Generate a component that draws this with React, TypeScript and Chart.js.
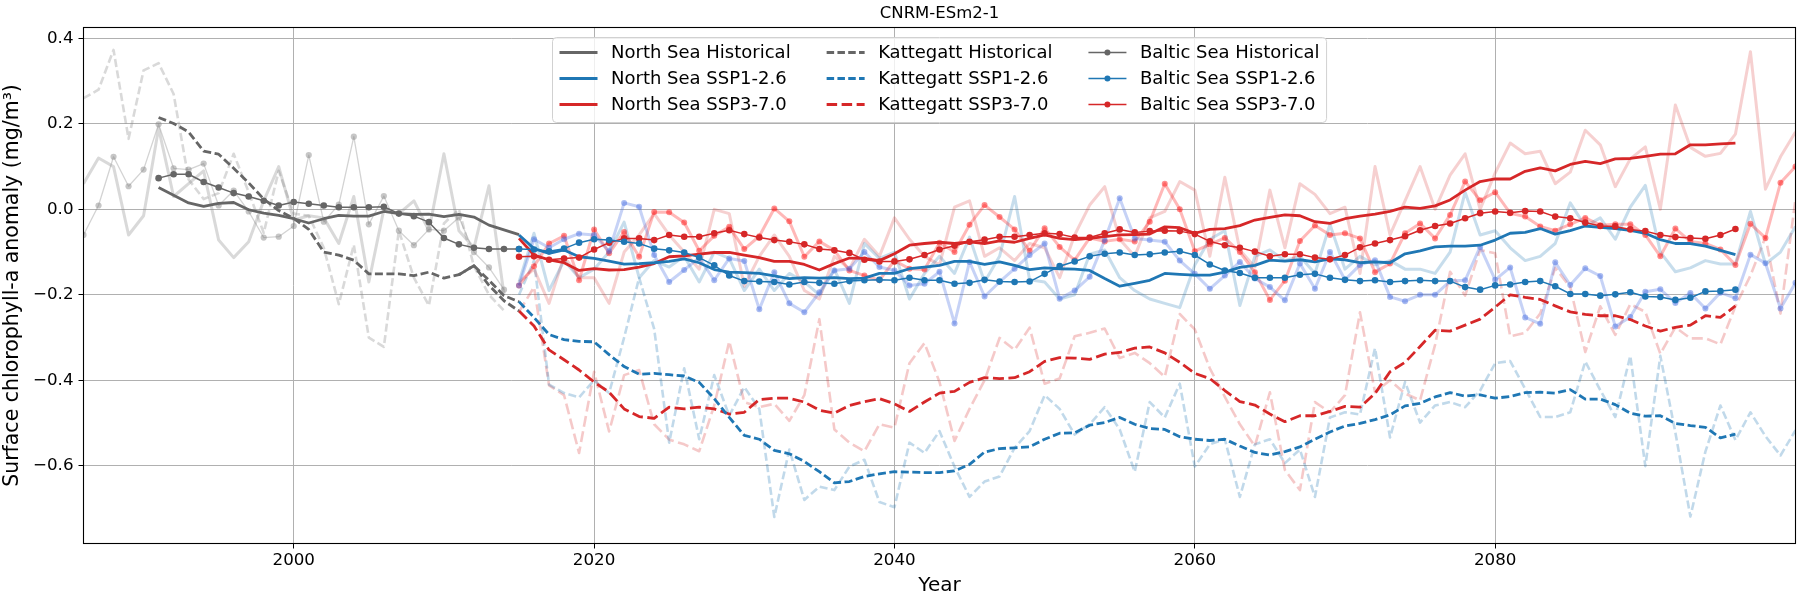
import { useEffect, useRef } from "react";
import { Chart, registerables } from "chart.js";

Chart.register(...registerables);

// ---------- axes ----------
const PLOT_TITLE = "CNRM-ESm2-1";
const X_LABEL = "Year";
const Y_LABEL = "Surface chlorophyll-a anomaly (mg/m³)";
const X_MIN = 1986;
const X_MAX = 2100;
const Y_MIN = -0.782;
const Y_MAX = 0.4255;
const xTickValues = [2000, 2020, 2040, 2060, 2080];
const yTickValues = [-0.6, -0.4, -0.2, 0.0, 0.2, 0.4];

// ---------- first year of each kind of series ----------
const ANNUAL_HIST_START = 1986; // annual historical anomalies, 1986–2014
const MEAN_HIST_START = 1991; // 10-year running mean, historical part, 1991–2015
const PROJ_START = 2015; // annual scenario anomalies 2015–2100, running means 2015–2096
const KATTEGATT_HIST_ALT_START = 2011; // historical running mean joined to SSP3-7.0

// ---------- historical, annual ----------
const northSeaHistAnnual = [
  0.06, 0.12, 0.1, -0.06, -0.015, 0.19, 0.03, 0.06, 0.09, -0.072,
  -0.113, -0.076, 0.02, 0.1, -0.025, -0.015, -0.02, -0.08, 0.03, -0.17,
  0.0, -0.01, 0.02, -0.05, 0.13, -0.05, -0.09, 0.055, -0.2,
];
const kattegattHistAnnual = [
  0.26, 0.28, 0.373, 0.165, 0.325, 0.342, 0.27, 0.07, 0.024, 0.038,
  0.13, 0.04, -0.055, 0.09, -0.01, -0.015, -0.09, -0.222, -0.083, -0.3,
  -0.322, -0.05, -0.16, -0.225, -0.033, 0.0, -0.133, -0.2, -0.237,
];
const balticHistAnnual = [
  -0.06, 0.009, 0.123, 0.054, 0.093, 0.199, 0.096, 0.093, 0.107, 0.009,
  0.044, -0.005, -0.066, -0.064, -0.039, 0.127, -0.029, 0.011, 0.17, -0.035,
  0.031, -0.05, -0.084, -0.047, -0.05, -0.019, -0.1, -0.136, -0.188,
];

// ---------- historical, running means ----------
const northSeaHistMean = [
  0.051, 0.033, 0.015, 0.007, 0.014, 0.016, -0.001, -0.009, -0.014, -0.022,
  -0.032, -0.022, -0.014, -0.016, -0.016, -0.005, -0.01, -0.012, -0.011, -0.017,
  -0.012, -0.018, -0.037, -0.048, -0.059,
];
const kattegattHistMean = [
  0.215, 0.201, 0.181, 0.136, 0.129, 0.096, 0.062, 0.024, -0.003, -0.021,
  -0.047, -0.1, -0.107, -0.119, -0.151, -0.151, -0.151, -0.155, -0.147, -0.161,
  -0.153, -0.132, -0.166, -0.202, -0.216,
];
const kattegattHistMeanAlt = [-0.153, -0.132, -0.178, -0.214, -0.238];
const balticHistMean = [
  0.073, 0.082, 0.082, 0.064, 0.051, 0.038, 0.03, 0.02, 0.009, 0.017,
  0.013, 0.009, 0.005, 0.005, 0.005, 0.006, -0.01, -0.016, -0.03, -0.067,
  -0.082, -0.09, -0.093, -0.093, -0.093,
];

// ---------- scenarios, annual (2015–2100) ----------
const northSeaSsp126Annual = [
  -0.17, -0.056, -0.19, -0.12, -0.16, -0.14, -0.1, -0.03, -0.16, -0.12,
  -0.135, -0.11, -0.17, -0.1, -0.115, -0.19, -0.14, -0.19, -0.15, -0.17,
  -0.2, -0.14, -0.22, -0.08, -0.115, -0.1, -0.21, -0.15, -0.11, -0.15,
  -0.065, -0.17, -0.11, 0.03, -0.165, -0.17, -0.21, -0.2, -0.105, -0.095,
  -0.16, -0.19, -0.21, -0.22, -0.23, -0.13, -0.07, -0.05, -0.225, -0.11,
  -0.095, -0.12, -0.11, -0.15, -0.035, -0.14, -0.11, -0.13, -0.12, -0.14,
  -0.14, -0.15, -0.1, 0.04, -0.06, -0.05, -0.09, -0.12, -0.11, -0.08,
  0.015, -0.04, -0.02, -0.07, 0.005, 0.056, -0.1, -0.146, -0.137, -0.12,
  -0.128, -0.128, -0.005, -0.128, -0.1, -0.04,
];
const northSeaSsp370Annual = [
  -0.17, -0.14, -0.22, -0.11, -0.16, -0.16, -0.22, -0.1, -0.06, -0.01,
  -0.06, -0.1, -0.14, 0.0, -0.01, -0.18, -0.11, -0.06, -0.11, -0.19,
  -0.21, -0.11, -0.14, -0.07, -0.11, -0.02, -0.07, -0.11, -0.13, 0.005,
  0.02, -0.11, -0.09, -0.12, -0.08, -0.09, -0.16, -0.06, 0.01, 0.053,
  -0.07, -0.11, -0.02, -0.005, 0.065, 0.045, -0.11, 0.075, -0.095, -0.135,
  0.045, -0.09, 0.06, 0.035, -0.01, 0.005, -0.15, 0.1, -0.06, 0.02,
  0.1, 0.0, 0.08, 0.13, 0.0, 0.085, 0.155, 0.13, 0.136, 0.06,
  0.087, 0.185, 0.151, 0.053, 0.118, 0.146, 0.0, 0.244, 0.145, 0.124,
  0.131, 0.176, 0.369, 0.047, 0.123, 0.181,
];
const kattegattSsp126Annual = [
  -0.2, -0.12, -0.41, -0.43, -0.44, -0.4, -0.43, -0.3, -0.16, -0.28,
  -0.546, -0.372, -0.538, -0.388, -0.483, -0.416, -0.467, -0.72, -0.562, -0.68,
  -0.649, -0.657, -0.602, -0.586, -0.685, -0.697, -0.546, -0.57, -0.519, -0.602,
  -0.673, -0.637, -0.625, -0.558, -0.519, -0.435, -0.467, -0.527, -0.503, -0.463,
  -0.515, -0.614, -0.451, -0.487, -0.408, -0.602, -0.55, -0.538, -0.673, -0.55,
  -0.538, -0.594, -0.562, -0.673, -0.487, -0.475, -0.48, -0.325, -0.534, -0.404,
  -0.499, -0.459, -0.451, -0.463, -0.424, -0.36, -0.355, -0.42, -0.486, -0.486,
  -0.475, -0.356, -0.423, -0.486, -0.343, -0.601, -0.343, -0.522, -0.719, -0.567,
  -0.459, -0.54, -0.475, -0.531, -0.576, -0.517,
];
const kattegattSsp370Annual = [
  -0.24, -0.182, -0.412, -0.435, -0.57, -0.38, -0.52, -0.388, -0.376, -0.503,
  -0.539, -0.55, -0.566, -0.459, -0.309, -0.451, -0.463, -0.455, -0.495, -0.435,
  -0.257, -0.515, -0.546, -0.566, -0.503, -0.511, -0.36, -0.313, -0.404, -0.542,
  -0.467, -0.4, -0.301, -0.329, -0.277, -0.408, -0.396, -0.297, -0.289, -0.279,
  -0.348, -0.336, -0.36, -0.392, -0.245, -0.281, -0.372, -0.439, -0.503, -0.554,
  -0.428, -0.61, -0.657, -0.451, -0.475, -0.435, -0.241, -0.428, -0.4, -0.431,
  -0.447, -0.317, -0.146, -0.202, -0.095, -0.103, -0.297, -0.289, -0.244, -0.137,
  -0.182, -0.334, -0.227, -0.294, -0.222, -0.24, -0.338, -0.276, -0.302, -0.302,
  -0.316, -0.227, -0.155, -0.065, -0.244, 0.024,
];
const balticSsp126Annual = [
  -0.178, -0.07, -0.09, -0.07, -0.057, -0.06, -0.098, 0.015, 0.006, -0.107,
  -0.17, -0.142, -0.113, -0.166, -0.115, -0.121, -0.234, -0.147, -0.22, -0.241,
  -0.194, -0.143, -0.139, -0.1, -0.135, -0.143, -0.178, -0.174, -0.146, -0.267,
  -0.123, -0.204, -0.17, -0.139, -0.107, -0.08, -0.209, -0.19, -0.158, -0.072,
  0.026, -0.068, -0.072, -0.076, -0.12, -0.151, -0.186, -0.155, -0.123, -0.162,
  -0.182, -0.213, -0.127, -0.186, -0.1, -0.165, -0.13, -0.119, -0.205, -0.215,
  -0.2, -0.2, -0.168, -0.166, -0.088, -0.165, -0.136, -0.253, -0.268, -0.124,
  -0.177, -0.138, -0.156, -0.274, -0.252, -0.193, -0.187, -0.219, -0.196, -0.232,
  -0.195, -0.208, -0.106, -0.126, -0.232, -0.172,
];
const balticSsp370Annual = [
  -0.178, -0.133, -0.08, -0.062, -0.166, -0.047, -0.103, -0.053, -0.111, -0.006,
  -0.007, -0.031, -0.097, -0.062, -0.041, -0.093, -0.063, 0.002, -0.028, -0.111,
  -0.075, -0.096, -0.143, -0.155, -0.166, -0.12, -0.139, -0.141, -0.078, -0.1,
  -0.036, 0.01, -0.018, -0.047, -0.097, -0.044, -0.088, -0.119, -0.067, -0.075,
  -0.07, -0.075, -0.029, 0.06, 0.0, -0.098, -0.082, -0.067, -0.1, -0.147,
  -0.212, -0.167, -0.074, -0.038, -0.06, -0.056, -0.068, -0.147, -0.127, -0.056,
  -0.033, -0.068, -0.013, 0.065, 0.021, 0.04, -0.009, -0.017, -0.04, -0.05,
  -0.035, -0.02, -0.037, -0.035, -0.035, -0.06, -0.11, -0.045, -0.075, -0.08,
  -0.094, -0.13, -0.034, -0.067, 0.062, 0.1,
];

// ---------- scenarios, running means (2015–2096) ----------
const northSeaSsp126Mean = [
  -0.06, -0.092, -0.103, -0.095, -0.111, -0.115, -0.121, -0.128, -0.127, -0.125,
  -0.122, -0.116, -0.125, -0.141, -0.147, -0.148, -0.15, -0.156, -0.162, -0.16,
  -0.161, -0.16, -0.162, -0.161, -0.15, -0.15, -0.139, -0.135, -0.131, -0.122,
  -0.122, -0.129, -0.123, -0.131, -0.141, -0.137, -0.139, -0.14, -0.143, -0.162,
  -0.18, -0.173, -0.166, -0.15, -0.152, -0.154, -0.154, -0.147, -0.136, -0.131,
  -0.119, -0.121, -0.118, -0.123, -0.116, -0.118, -0.125, -0.123, -0.125, -0.104,
  -0.097, -0.088, -0.086, -0.086, -0.084, -0.072, -0.056, -0.054, -0.045, -0.058,
  -0.05, -0.039, -0.042, -0.045, -0.049, -0.056, -0.071, -0.08, -0.08, -0.086,
  -0.096, -0.106,
];
const northSeaSsp370Mean = [
  -0.068, -0.107, -0.118, -0.125, -0.143, -0.139, -0.142, -0.141, -0.135, -0.127,
  -0.111, -0.109, -0.105, -0.101, -0.101, -0.107, -0.113, -0.122, -0.122, -0.129,
  -0.142, -0.127, -0.114, -0.115, -0.12, -0.104, -0.084, -0.08, -0.077, -0.08,
  -0.076, -0.08, -0.074, -0.077, -0.068, -0.06, -0.068, -0.071, -0.068, -0.064,
  -0.06, -0.059, -0.058, -0.041, -0.043, -0.056, -0.047, -0.045, -0.038, -0.025,
  -0.019, -0.013, -0.015, -0.029, -0.033, -0.022, -0.016, -0.011, -0.005, 0.005,
  0.002, 0.008, 0.022, 0.045, 0.065, 0.071, 0.071, 0.089, 0.097, 0.09,
  0.105, 0.112, 0.107, 0.118, 0.119, 0.124, 0.129, 0.13, 0.151, 0.151,
  0.153, 0.155,
];
const kattegattSsp126Mean = [
  -0.216, -0.253, -0.293, -0.305, -0.309, -0.31, -0.34, -0.368, -0.386, -0.384,
  -0.387, -0.39, -0.405, -0.443, -0.487, -0.529, -0.538, -0.564, -0.572, -0.59,
  -0.614, -0.64, -0.637, -0.625, -0.619, -0.614, -0.615, -0.616, -0.616, -0.612,
  -0.597, -0.568, -0.56, -0.558, -0.556, -0.538, -0.524, -0.523, -0.505, -0.499,
  -0.487, -0.503, -0.513, -0.515, -0.532, -0.538, -0.541, -0.538, -0.554, -0.569,
  -0.575, -0.567, -0.556, -0.538, -0.521, -0.507, -0.501, -0.492, -0.481, -0.46,
  -0.454, -0.439, -0.429, -0.437, -0.434, -0.442, -0.438, -0.429, -0.428, -0.43,
  -0.422, -0.444, -0.444, -0.457, -0.477, -0.484, -0.483, -0.501, -0.506, -0.51,
  -0.535, -0.526,
];
const kattegattSsp370Mean = [
  -0.238, -0.273, -0.329, -0.352, -0.376, -0.404, -0.428, -0.467, -0.485, -0.489,
  -0.463, -0.467, -0.463, -0.467, -0.479, -0.475, -0.445, -0.442, -0.442, -0.451,
  -0.47, -0.477, -0.459, -0.45, -0.443, -0.455, -0.473, -0.451, -0.43, -0.426,
  -0.405, -0.394, -0.396, -0.394, -0.38, -0.356, -0.347, -0.348, -0.351, -0.339,
  -0.335, -0.325, -0.322, -0.336, -0.358, -0.384, -0.396, -0.424, -0.45, -0.458,
  -0.479, -0.497, -0.483, -0.483, -0.473, -0.461, -0.463, -0.431, -0.38, -0.358,
  -0.321, -0.283, -0.285, -0.271, -0.257, -0.229, -0.2, -0.206, -0.211, -0.226,
  -0.24, -0.246, -0.249, -0.249, -0.258, -0.273, -0.285, -0.276, -0.271, -0.249,
  -0.253, -0.226,
];
const balticSsp126Mean = [
  -0.093, -0.094, -0.098, -0.092, -0.078, -0.07, -0.072, -0.076, -0.08, -0.092,
  -0.096, -0.101, -0.113, -0.131, -0.155, -0.168, -0.169, -0.17, -0.176, -0.17,
  -0.172, -0.174, -0.168, -0.166, -0.165, -0.166, -0.16, -0.166, -0.166, -0.174,
  -0.172, -0.165, -0.169, -0.17, -0.169, -0.151, -0.133, -0.122, -0.11, -0.104,
  -0.101, -0.107, -0.105, -0.101, -0.098, -0.107, -0.129, -0.143, -0.149, -0.16,
  -0.16, -0.16, -0.153, -0.151, -0.16, -0.165, -0.168, -0.166, -0.17, -0.168,
  -0.166, -0.168, -0.168, -0.182, -0.188, -0.178, -0.176, -0.17, -0.168, -0.18,
  -0.198, -0.198, -0.202, -0.199, -0.194, -0.204, -0.205, -0.212, -0.207, -0.192,
  -0.191, -0.188,
];
const balticSsp370Mean = [
  -0.111, -0.11, -0.118, -0.115, -0.113, -0.094, -0.078, -0.068, -0.068, -0.072,
  -0.06, -0.064, -0.064, -0.056, -0.049, -0.058, -0.066, -0.072, -0.076, -0.082,
  -0.093, -0.096, -0.102, -0.118, -0.122, -0.122, -0.117, -0.107, -0.094, -0.085,
  -0.076, -0.071, -0.064, -0.064, -0.06, -0.056, -0.058, -0.066, -0.066, -0.056,
  -0.047, -0.054, -0.051, -0.05, -0.051, -0.058, -0.075, -0.084, -0.09, -0.099,
  -0.11, -0.105, -0.105, -0.113, -0.117, -0.107, -0.089, -0.08, -0.072, -0.063,
  -0.049, -0.039, -0.033, -0.021, -0.009, -0.005, -0.008, -0.004, -0.005, -0.017,
  -0.021, -0.031, -0.039, -0.04, -0.047, -0.051, -0.06, -0.065, -0.067, -0.069,
  -0.06, -0.046,
];

// ---------- styling ----------
const FONT = "'DejaVu Sans', sans-serif";
const GRAY = "#666666";
const BLUE = "#1f77b4";
const RED = "#d62728";
const DASH = [8, 3.5];
const LONG_DASH = [11, 4.5];

const toPoints = (start: number, values: number[]) =>
  values.map((y, i) => ({ x: start + i, y }));

const lineBase = {
  fill: false,
  tension: 0,
  borderJoinStyle: "round",
  borderCapStyle: "butt",
  clip: 0,
  pointHoverRadius: 0,
  pointHitRadius: 0,
};

function annualLine(label: string, start: number, values: number[], color: string, dash: number[] = []) {
  return {
    ...lineBase,
    label,
    data: toPoints(start, values),
    borderColor: color,
    borderWidth: dash.length ? 2.6 : 3,
    borderDash: dash,
    pointRadius: 0,
    order: 30,
  };
}

function annualMarked(label: string, start: number, values: number[], lineColor: string, dotColor: string, width: number, radius: number) {
  return {
    ...lineBase,
    label,
    data: toPoints(start, values),
    borderColor: lineColor,
    borderWidth: width,
    pointRadius: radius,
    pointBackgroundColor: dotColor,
    pointBorderWidth: 0,
    order: 25,
  };
}

function meanLine(label: string, start: number, values: number[], color: string, dash: number[] = [], order = 12) {
  return {
    ...lineBase,
    label,
    data: toPoints(start, values),
    borderColor: color,
    borderWidth: 2.8,
    borderDash: dash,
    pointRadius: 0,
    order,
  };
}

function meanMarked(label: string, start: number, values: number[], color: string, order = 5) {
  return {
    ...lineBase,
    label,
    data: toPoints(start, values),
    borderColor: color,
    borderWidth: 1.5,
    pointRadius: 3.3,
    pointBackgroundColor: color,
    pointBorderWidth: 0,
    order,
  };
}

const datasets = [
  // annual values, drawn underneath
  annualLine("North Sea Historical (annual)", ANNUAL_HIST_START, northSeaHistAnnual, "rgba(128,128,128,0.3)"),
  annualLine("Kattegatt Historical (annual)", ANNUAL_HIST_START, kattegattHistAnnual, "rgba(128,128,128,0.3)", DASH),
  annualMarked("Baltic Sea Historical (annual)", ANNUAL_HIST_START, balticHistAnnual, "rgba(128,128,128,0.35)", "rgba(128,128,128,0.45)", 1.3, 3.1),
  annualLine("North Sea SSP1-2.6 (annual)", PROJ_START, northSeaSsp126Annual, "rgba(31,119,180,0.25)"),
  annualLine("North Sea SSP3-7.0 (annual)", PROJ_START, northSeaSsp370Annual, "rgba(214,39,40,0.22)"),
  annualLine("Kattegatt SSP1-2.6 (annual)", PROJ_START, kattegattSsp126Annual, "rgba(31,119,180,0.28)", DASH),
  annualLine("Kattegatt SSP3-7.0 (annual)", PROJ_START, kattegattSsp370Annual, "rgba(214,39,40,0.25)", LONG_DASH),
  annualMarked("Baltic Sea SSP1-2.6 (annual)", PROJ_START, balticSsp126Annual, "rgba(65,105,225,0.3)", "rgba(65,105,225,0.45)", 3, 3),
  annualMarked("Baltic Sea SSP3-7.0 (annual)", PROJ_START, balticSsp370Annual, "rgba(255,0,0,0.28)", "rgba(255,0,0,0.45)", 3, 3),
  // running means
  meanLine("North Sea Historical", MEAN_HIST_START, northSeaHistMean, GRAY, [], 14),
  meanLine("Kattegatt Historical", MEAN_HIST_START, kattegattHistMean, GRAY, DASH, 14),
  meanLine("Kattegatt Historical (to SSP3-7.0)", KATTEGATT_HIST_ALT_START, kattegattHistMeanAlt, GRAY, DASH, 14),
  meanMarked("Baltic Sea Historical", MEAN_HIST_START, balticHistMean, GRAY, 8),
  meanLine("North Sea SSP1-2.6", PROJ_START, northSeaSsp126Mean, BLUE),
  meanLine("North Sea SSP3-7.0", PROJ_START, northSeaSsp370Mean, RED),
  meanLine("Kattegatt SSP1-2.6", PROJ_START, kattegattSsp126Mean, BLUE, DASH, 10),
  meanLine("Kattegatt SSP3-7.0", PROJ_START, kattegattSsp370Mean, RED, LONG_DASH, 10),
  meanMarked("Baltic Sea SSP1-2.6", PROJ_START, balticSsp126Mean, BLUE),
  meanMarked("Baltic Sea SSP3-7.0", PROJ_START, balticSsp370Mean, RED),
];

// legend entries, column by column
type LegendEntry = { label: string; color: string; kind: "solid" | "dash" | "longdash" | "marker" };
const legendColumns: LegendEntry[][] = [
  [
    { label: "North Sea Historical", color: GRAY, kind: "solid" },
    { label: "North Sea SSP1-2.6", color: BLUE, kind: "solid" },
    { label: "North Sea SSP3-7.0", color: RED, kind: "solid" },
  ],
  [
    { label: "Kattegatt Historical", color: GRAY, kind: "dash" },
    { label: "Kattegatt SSP1-2.6", color: BLUE, kind: "dash" },
    { label: "Kattegatt SSP3-7.0", color: RED, kind: "longdash" },
  ],
  [
    { label: "Baltic Sea Historical", color: GRAY, kind: "marker" },
    { label: "Baltic Sea SSP1-2.6", color: BLUE, kind: "marker" },
    { label: "Baltic Sea SSP3-7.0", color: RED, kind: "marker" },
  ],
];

// black box around the plotting area
const framePlugin = {
  id: "axesFrame",
  afterDatasetsDraw(chart: any) {
    const { ctx, chartArea: a } = chart;
    ctx.save();
    ctx.strokeStyle = "#000";
    ctx.lineWidth = 1.1;
    ctx.strokeRect(a.left, a.top, a.right - a.left, a.bottom - a.top);
    ctx.restore();
  },
};

// title centred over the plotting area
const titlePlugin = {
  id: "axesTitle",
  afterDraw(chart: any) {
    const { ctx, chartArea: a } = chart;
    ctx.save();
    ctx.font = `16.5px ${FONT}`;
    ctx.fillStyle = "#000";
    ctx.textAlign = "center";
    ctx.textBaseline = "alphabetic";
    ctx.fillText(PLOT_TITLE, (a.left + a.right) / 2, a.top - 9.5);
    ctx.restore();
  },
};

// three-column legend at the upper centre of the plotting area
const legendPlugin = {
  id: "regionLegend",
  afterDraw(chart: any) {
    const { ctx, chartArea: a } = chart;
    const fontSize = 18;
    const handleLen = 38;
    const handlePad = 13.5;
    const colSpacing = 36;
    const borderPad = 7;
    const rowGap = 26;
    const boxH = 85;
    ctx.save();
    ctx.font = `${fontSize}px ${FONT}`;
    const colW = legendColumns.map((col) => Math.max(...col.map((e) => ctx.measureText(e.label).width)));
    const strides = colW.map((w) => handleLen + handlePad + w);
    const boxW = borderPad * 2 + strides.reduce((s, v) => s + v, 0) + colSpacing * (legendColumns.length - 1);
    const left = Math.round((a.left + a.right) / 2 - boxW / 2) + 0.5;
    const top = Math.round(a.top + 9) + 0.5;

    ctx.beginPath();
    ctx.roundRect(left, top, boxW, boxH, 4);
    ctx.fillStyle = "rgba(255,255,255,0.8)";
    ctx.fill();
    ctx.strokeStyle = "rgba(204,204,204,0.9)";
    ctx.lineWidth = 1;
    ctx.stroke();

    let x = left + borderPad;
    legendColumns.forEach((col, ci) => {
      col.forEach((e, ri) => {
        const y = top + 15 + ri * rowGap;
        ctx.save();
        ctx.strokeStyle = e.color;
        ctx.lineCap = "butt";
        if (e.kind === "marker") {
          ctx.lineWidth = 1.5;
          ctx.beginPath();
          ctx.moveTo(x, y);
          ctx.lineTo(x + handleLen, y);
          ctx.stroke();
          ctx.fillStyle = e.color;
          ctx.beginPath();
          ctx.arc(x + handleLen / 2, y, 3, 0, Math.PI * 2);
          ctx.fill();
        } else {
          ctx.lineWidth = 2.8;
          ctx.setLineDash(e.kind === "dash" ? [7.5, 3.3] : e.kind === "longdash" ? [10.5, 4.5] : []);
          ctx.beginPath();
          ctx.moveTo(x, y);
          ctx.lineTo(x + handleLen, y);
          ctx.stroke();
        }
        ctx.restore();
        ctx.fillStyle = "#000";
        ctx.textAlign = "left";
        ctx.textBaseline = "middle";
        ctx.fillText(e.label, x + handleLen + handlePad, y + 1);
      });
      x += strides[ci] + colSpacing;
    });
    ctx.restore();
  },
};

const formatY = (v: number) => {
  const s = Math.abs(v) < 1e-9 ? "0.0" : v.toFixed(1);
  return s.replace("-", "\u2212");
};

export default function App() {
  const canvasRef = useRef<HTMLCanvasElement | null>(null);

  useEffect(() => {
    const canvas = canvasRef.current;
    if (!canvas) return;
    Chart.defaults.font.family = FONT;
    const chart = new Chart(canvas, {
      type: "line",
      data: { datasets: datasets as any },
      options: {
        animation: false,
        responsive: false,
        devicePixelRatio: 1,
        events: [],
        layout: { padding: { top: 27.5, right: 4.5, bottom: 0, left: 0 } },
        plugins: {
          legend: { display: false },
          tooltip: { enabled: false },
          title: { display: false },
        },
        scales: {
          x: {
            type: "linear",
            min: X_MIN,
            max: X_MAX,
            afterBuildTicks: (scale: any) => {
              scale.ticks = xTickValues.map((value) => ({ value }));
            },
            afterFit: (scale: any) => {
              scale.height = 56.5;
            },
            grid: {
              color: "#b0b0b0",
              lineWidth: 1,
              drawTicks: true,
              tickLength: 5,
              tickColor: "#000",
              tickWidth: 1,
            },
            border: { display: false },
            ticks: {
              color: "#000",
              font: { size: 16.7, family: FONT },
              padding: 2,
              maxRotation: 0,
              autoSkip: false,
              callback: (v: any) => String(v),
            },
            title: {
              display: true,
              text: X_LABEL,
              color: "#000",
              font: { size: 20, family: FONT },
              padding: { top: 0, bottom: 2 },
            },
          },
          y: {
            type: "linear",
            min: Y_MIN,
            max: Y_MAX,
            afterBuildTicks: (scale: any) => {
              scale.ticks = yTickValues.map((value) => ({ value }));
            },
            afterFit: (scale: any) => {
              scale.width = 83.5;
            },
            grid: {
              color: "#b0b0b0",
              lineWidth: 1,
              drawTicks: true,
              tickLength: 5,
              tickColor: "#000",
              tickWidth: 1,
            },
            border: { display: false },
            ticks: {
              color: "#000",
              font: { size: 16.7, family: FONT },
              padding: 5,
              autoSkip: false,
              callback: (v: any) => formatY(Number(v)),
            },
            title: {
              display: true,
              text: Y_LABEL,
              color: "#000",
              font: { size: 20.5, family: FONT },
              padding: { top: 0, bottom: 0 },
            },
          },
        },
      } as any,
      plugins: [framePlugin, titlePlugin, legendPlugin],
    });
    return () => chart.destroy();
  }, []);

  return (
    <div style={{ position: "absolute", left: 0, top: 0, width: 1800, height: 600, background: "#fff" }}>
      <canvas ref={canvasRef} width={1800} height={600} style={{ display: "block", width: 1800, height: 600 }} />
    </div>
  );
}
